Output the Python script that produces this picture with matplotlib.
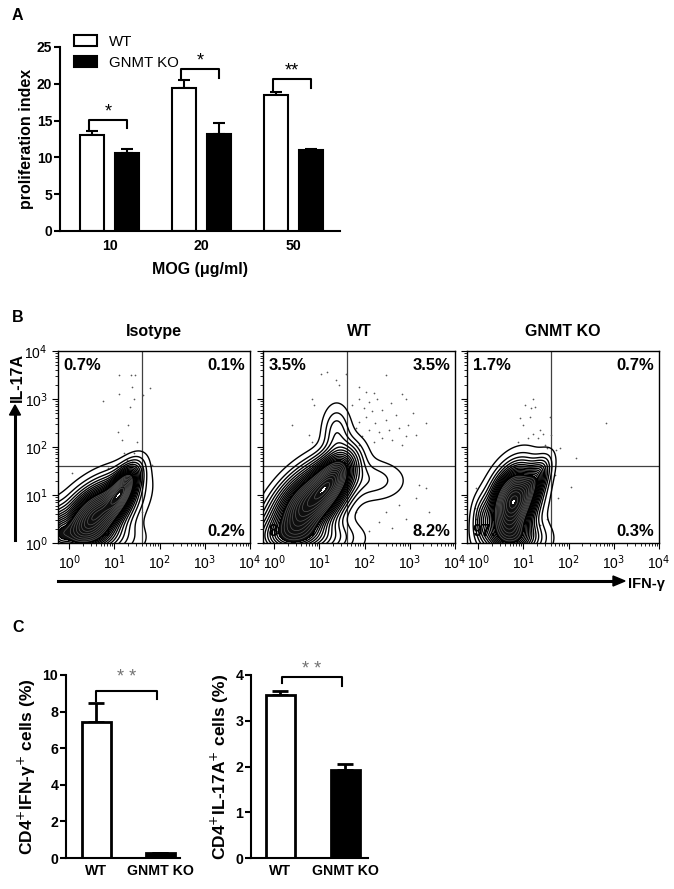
import numpy as np
import matplotlib.pyplot as plt

plt.rcParams['font.family'] = ['Liberation Sans', 'DejaVu Sans']

# ---- panel A data ----
mog_doses = ['10', '20', '50']
wt_prolif = [13.05, 19.45, 18.5]
wt_prolif_err = [0.55, 1.1, 0.45]
ko_prolif = [10.55, 13.15, 10.95]
ko_prolif_err = [0.55, 1.5, 0.2]
prolif_sig = ['*', '*', '**']
prolif_bracket = [15.1, 22.0, 20.6]
prolif_drop_l = [13.6, 20.5, 19.1]
prolif_drop_r = [14.0, 20.8, 19.4]

# ---- panel B data (log10 units) ----
flow_titles = ['Isotype', 'WT', 'GNMT KO']
flow_pct = [['0.7%', '0.1%', '99.0%', '0.2%'],
            ['3.5%', '3.5%', '84.8%', '8.2%'],
            ['1.7%', '0.7%', '97.3%', '0.3%']]
gate_x = 1.6
gate_y = 1.6
# population blobs: cx, cy, sx, sy, rho, weight
iso_pops = [(0.6, 0.62, 0.48, 0.42, 0.5, 1.0),
            (1.2, 1.15, 0.22, 0.3, 0.6, 0.22),
            (0.45, 0.1, 0.6, 0.25, 0.0, 0.25),
            (-0.25, 0.25, 0.15, 0.3, 0.0, 0.06)]
wt_pops = [(0.73, 0.79, 0.48, 0.48, 0.5, 1.0),
           (1.3, 1.35, 0.3, 0.35, 0.5, 0.3),
           (1.38, 2.3, 0.2, 0.36, 0.0, 0.045),
           (2.2, 1.3, 0.45, 0.27, 0.0, 0.05),
           (0.6, 0.1, 0.65, 0.25, 0.0, 0.25)]
ko_pops = [(0.77, 0.86, 0.32, 0.45, 0.3, 1.0),
           (1.3, 1.35, 0.2, 0.3, 0.6, 0.08),
           (0.8, 0.1, 0.4, 0.25, 0.0, 0.25),
           (0.1, 0.5, 0.15, 0.3, 0.0, 0.04)]
flow_pops = [iso_pops, wt_pops, ko_pops]
iso_dots_x = [1.09, 1.37, 1.45, 1.38, 1.09, 0.75, 1.44, 1.34, 1.31, 1.07, 1.16, 1.49,
              1.2, 1.44, 1.27, 1.38, 1.64, 1.79, 1.82, 0.05, 0.86, 1.6, 1.62]
iso_dots_y = [3.49, 3.49, 3.49, 3.26, 3.1, 2.96, 2.99, 2.84, 2.46, 2.31, 2.15, 2.11,
              1.87, 1.87, 1.73, 1.69, 3.08, 3.22, 1.63, 1.45, 1.56, 1.2, 0.65]
wt_dots_x = [1.03, 1.17, 1.43, 1.58, 2.47, 1.88, 2.02, 2.21, 2.28, 2.10, 1.88, 1.73, 1.99,
             2.17, 2.39, 2.58, 2.83, 2.91, 2.69, 2.47, 2.24, 2.02, 1.88, 1.80, 2.10, 2.32,
             2.54, 2.76, 2.95, 3.06, 3.35, 3.13, 2.91, 2.61, 2.39, 2.21, 1.95, 1.88, 2.83,
             0.84, 0.88, 0.40, 0.77, 0.84, 1.36, 3.20, 3.35, 3.13, 2.76, 2.47, 2.32, 2.91,
             2.10, 3.42, 1.80, 2.61]
wt_dots_y = [3.53, 3.57, 3.29, 3.53, 3.49, 3.26, 3.15, 3.12, 3.01, 2.94, 3.01, 2.88, 2.81,
             2.74, 2.77, 2.91, 3.10, 3.01, 2.67, 2.56, 2.49, 2.63, 2.53, 2.39, 2.35, 2.32,
             2.35, 2.39, 2.46, 2.70, 2.49, 2.25, 2.22, 2.15, 2.18, 2.11, 2.22, 2.04, 2.04,
             3.01, 2.88, 2.46, 2.25, 2.11, 3.40, 1.21, 1.14, 0.93, 0.79, 0.65, 0.44, 0.51,
             0.24, 0.65, 0.65, 0.31]
ko_dots_x = [1.21, 1.03, 1.17, 1.25, 0.92, 1.14, 0.99, 1.36, 1.43, 1.21, 1.10, 0.88, 1.32,
             1.47, 1.58, 1.62, 1.51, 1.73, 1.80, 2.17, 2.83, 2.06, 1.76, -0.04, -0.08,
             -0.04, 1.51, 1.36, 1.69]
ko_dots_y = [3.01, 2.88, 2.81, 2.84, 2.60, 2.63, 2.46, 2.35, 2.28, 2.28, 2.18, 2.11, 2.18,
             2.04, 2.63, 2.25, 1.97, 1.94, 1.97, 1.78, 2.51, 1.17, 0.93, 1.14, 0.72, 0.51,
             0.51, 0.38, 1.42]
flow_dots = [(iso_dots_x, iso_dots_y), (wt_dots_x, wt_dots_y), (ko_dots_x, ko_dots_y)]

# ---- panel C data ----
c_groups = ['WT', 'GNMT KO']
ifng_pct = [7.45, 0.25]
ifng_err = [1.0, 0.05]
il17_pct = [3.57, 1.93]
il17_err = [0.07, 0.12]

fig = plt.figure(figsize=(6.74, 8.89), dpi=100)


def prism_axes(ax, size=9.8):
    ax.spines['top'].set_visible(False)
    ax.spines['right'].set_visible(False)
    ax.spines['left'].set_linewidth(1.5)
    ax.spines['bottom'].set_linewidth(1.5)
    ax.tick_params(axis='y', width=1.5, length=4, pad=1.5, labelsize=size)
    for lab in ax.get_yticklabels() + ax.get_xticklabels():
        lab.set_fontweight('bold')


def bracket(ax, x0, x1, ytop, yl, yr, txt, ty, color='black', size=13):
    ax.plot([x0, x0, x1, x1], [yl, ytop, ytop, yr], color='black', lw=1.5, clip_on=False)
    ax.text((x0 + x1) / 2, ty, txt, ha='center', va='center', fontsize=size, color=color)


# ---------------- A ----------------
axA = fig.add_axes([60 / 674, 1 - 231 / 889, 280 / 674, 184 / 889])
xg = np.arange(len(mog_doses))
off, bw = 0.19, 0.26
axA.bar(xg - off, wt_prolif, bw, color='white', edgecolor='black', lw=1.5, label='WT', zorder=2)
axA.bar(xg + off, ko_prolif, bw, color='black', edgecolor='black', lw=1.5, label='GNMT KO', zorder=2)
axA.errorbar(xg - off, wt_prolif, yerr=[np.zeros(3), wt_prolif_err], fmt='none',
             ecolor='black', elinewidth=1.5, capsize=4, capthick=1.5, zorder=1)
axA.errorbar(xg + off, ko_prolif, yerr=[np.zeros(3), ko_prolif_err], fmt='none',
             ecolor='black', elinewidth=1.5, capsize=4, capthick=1.5, zorder=1)
for i in range(3):
    bracket(axA, xg[i] - off - 0.03, xg[i] + off, prolif_bracket[i], prolif_drop_l[i],
            prolif_drop_r[i], prolif_sig[i], prolif_bracket[i] + 1.1)
axA.set_xlim(-0.54, 2.505)
axA.set_ylim(0, 25)
axA.set_yticks([0, 5, 10, 15, 20, 25])
axA.set_xticks(xg)
axA.set_xticklabels(mog_doses)
axA.tick_params(axis='x', length=0, labelsize=10.2, pad=6)
prism_axes(axA, 10)
axA.set_ylabel('proliferation index', fontsize=11.5, fontweight='bold', labelpad=2)
axA.set_xlabel('MOG (\u03bcg/ml)', fontsize=11.5, fontweight='bold', labelpad=6)
axA.legend(loc='upper left', bbox_to_anchor=(0.05, 1.065), frameon=False, fontsize=10.8,
           handlelength=1.55, handleheight=0.75, labelspacing=0.45, handletextpad=0.8,
           borderpad=0, borderaxespad=0)
fig.text(12 / 674, 1 - 15 / 889, 'A', fontsize=11.5, fontweight='bold', va='center')

# ---------------- B ----------------
fig.text(12 / 674, 1 - 317 / 889, 'B', fontsize=11.5, fontweight='bold', va='center')
gx = np.linspace(-1.2, 4.5, 420)
gy = np.linspace(-1.2, 4.5, 420)
GX, GY = np.meshgrid(gx, gy)
lefts = [58, 263, 467]
minor = np.log10(np.arange(2, 10))
for k in range(3):
    ax = fig.add_axes([lefts[k] / 674, 1 - 543 / 889, 192 / 674, 192 / 889])
    Z = np.zeros_like(GX)
    for cx, cy, sx, sy, rho, w in flow_pops[k]:
        dx = (GX - cx) / sx
        dy = (GY - cy) / sy
        q = (dx ** 2 - 2 * rho * dx * dy + dy ** 2) / (1 - rho ** 2)
        Z += w * np.exp(-0.5 * q) / (sx * sy * np.sqrt(1 - rho ** 2))
    flat = np.sort(Z.ravel())[::-1]
    cum = np.cumsum(flat)
    cum /= cum[-1]

    def lev(f):
        return flat[np.searchsorted(cum, f)]

    outer = np.unique([lev(f) for f in np.linspace(0.55, 0.975, 13)])
    inner = np.unique([lev(f) for f in np.linspace(0.03, 0.5, 10)])
    ax.contourf(GX, GY, Z, levels=[lev(0.55), lev(0.006)], colors=['0.06'], zorder=2)
    ax.contour(GX, GY, Z, levels=inner, colors='0.35', linewidths=0.5, zorder=3)
    ax.contour(GX, GY, Z, levels=outer, colors='black', linewidths=1.0, zorder=3)
    dx_, dy_ = flow_dots[k]
    ax.scatter(dx_, dy_, s=1.5, color='0.35', lw=0, zorder=2)
    ax.axvline(gate_x, color='0.25', lw=0.9, zorder=1)
    ax.axhline(gate_y, color='0.25', lw=0.9, zorder=1)
    p = flow_pct[k]
    kw = dict(fontsize=12, fontweight='bold', transform=ax.transAxes, zorder=1)
    ax.text(0.03, 0.965, p[0], ha='left', va='top', **kw)
    ax.text(0.975, 0.965, p[1], ha='right', va='top', **kw)
    ax.text(0.03, 0.02, p[2], ha='left', va='bottom', **kw)
    ax.text(0.975, 0.02, p[3], ha='right', va='bottom', **kw)
    ax.set_xlim(-0.25, 4.0)
    ax.set_ylim(0, 4.0)
    ax.set_xticks(range(5))
    ax.set_xticks([d + m for d in range(4) for m in minor], minor=True)
    ax.set_xticklabels(['10$^{%d}$' % d for d in range(5)], fontsize=10)
    ax.set_yticks(range(5))
    ax.set_yticks([d + m for d in range(4) for m in minor], minor=True)
    if k == 0:
        ax.set_yticklabels(['10$^{%d}$' % d for d in range(5)], fontsize=10)
    else:
        ax.set_yticklabels([])
    ax.tick_params(which='major', length=4, width=0.8)
    ax.tick_params(which='minor', length=2, width=0.6)
    for s in ax.spines.values():
        s.set_linewidth(1.0)
    ax.set_title(flow_titles[k], fontsize=11.5, fontweight='bold', pad=11)

# axis arrows
fig.add_artist(plt.Line2D([15 / 674, 15 / 674], [1 - 540 / 889, 1 - 412 / 889],
                          color='black', lw=2.2))
fig.patches.append(plt.Polygon([[9.5 / 674, 1 - 415 / 889], [20.5 / 674, 1 - 415 / 889],
                                [15 / 674, 1 - 405 / 889]], closed=True, color='black',
                               transform=fig.transFigure))
fig.text(17 / 674, 1 - 377 / 889, 'IL-17A', rotation=90, fontsize=11.5, fontweight='bold',
         ha='center', va='center')
fig.add_artist(plt.Line2D([58 / 674, 615 / 674], [1 - 581 / 889, 1 - 581 / 889],
                          color='black', lw=2.2))
fig.patches.append(plt.Polygon([[613 / 674, 1 - 576 / 889], [613 / 674, 1 - 586 / 889],
                                [625 / 674, 1 - 581 / 889]], closed=True, color='black',
                               transform=fig.transFigure))
fig.text(628 / 674, 1 - 584 / 889, 'IFN-\u03b3', fontsize=10.5, fontweight='bold',
         ha='left', va='center')

# ---------------- C ----------------
fig.text(12 / 674, 1 - 627 / 889, 'C', fontsize=11.5, fontweight='bold', va='center')
xc = np.arange(2)
axC1 = fig.add_axes([66 / 674, 1 - 858 / 889, 114 / 674, 183 / 889])
axC1.bar(xc, ifng_pct, 0.45, color=['white', 'black'], edgecolor='black', lw=2, zorder=2)
axC1.errorbar(xc, ifng_pct, yerr=[np.zeros(2), ifng_err], fmt='none', ecolor='black',
              elinewidth=2, capsize=6, capthick=2, zorder=1)
bracket(axC1, 0, 0.95, 9.15, 8.6, 8.7, '* *', 9.85, color='0.45')
axC1.set_xlim(-0.47, 1.31)
axC1.set_ylim(0, 10)
axC1.set_yticks([0, 2, 4, 6, 8, 10])
axC1.set_xticks(xc)
axC1.set_xticklabels(c_groups)
axC1.tick_params(axis='x', length=0, labelsize=10.2, pad=4)
prism_axes(axC1, 10.2)
axC1.set_ylabel('CD4$^{+}$IFN-\u03b3$^{+}$ cells (%)', fontsize=12.5, fontweight='bold',
                labelpad=3)

axC2 = fig.add_axes([251 / 674, 1 - 858 / 889, 117 / 674, 183 / 889])
axC2.bar(xc, il17_pct, 0.45, color=['white', 'black'], edgecolor='black', lw=2, zorder=2)
axC2.errorbar(xc, il17_pct, yerr=[np.zeros(2), il17_err], fmt='none', ecolor='black',
              elinewidth=2, capsize=6, capthick=2, zorder=1)
bracket(axC2, 0.02, 0.95, 3.95, 3.82, 3.76, '* *', 4.13, color='0.45')
axC2.set_xlim(-0.45, 1.35)
axC2.set_ylim(0, 4)
axC2.set_yticks([0, 1, 2, 3, 4])
axC2.set_xticks(xc)
axC2.set_xticklabels(c_groups)
axC2.tick_params(axis='x', length=0, labelsize=10.2, pad=4)
prism_axes(axC2, 10.2)
axC2.set_ylabel('CD4$^{+}$IL-17A$^{+}$ cells (%)', fontsize=12.5, fontweight='bold',
                labelpad=3)

fig.savefig('out.png', dpi=100)
